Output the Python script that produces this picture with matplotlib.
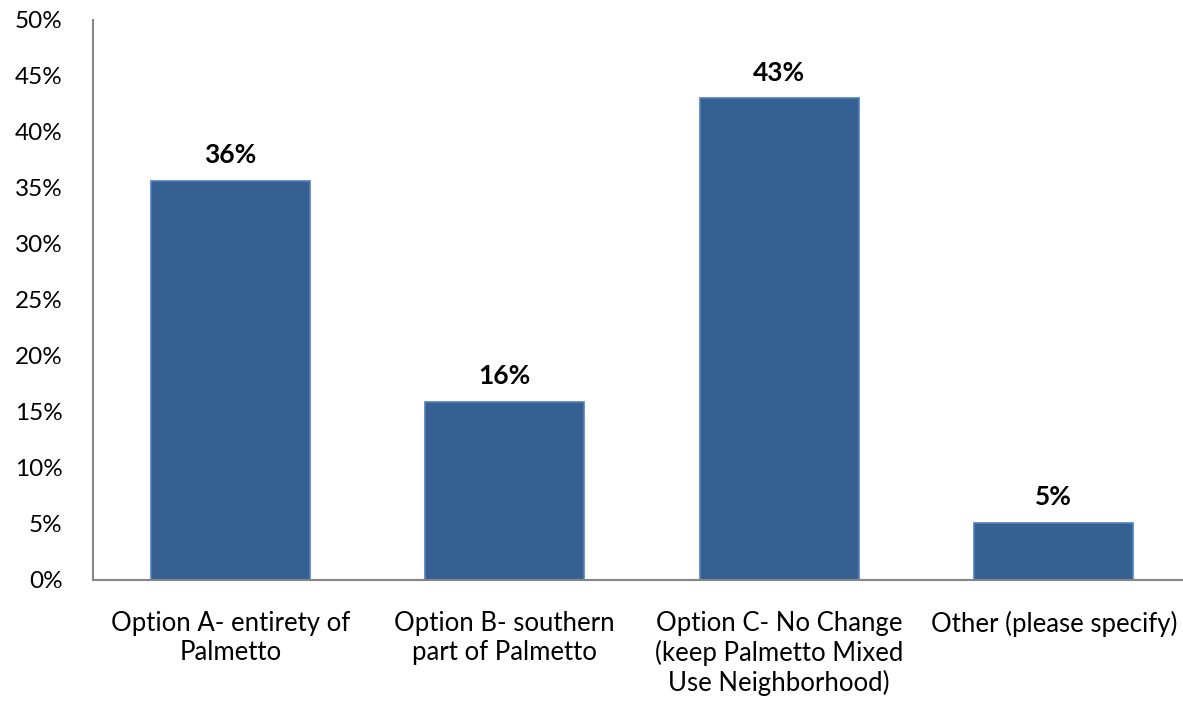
import matplotlib
matplotlib.use("Agg")
import matplotlib.pyplot as plt
from matplotlib.ticker import PercentFormatter

categories = ["Option A- entirety of\nPalmetto",
              "Option B- southern\npart of Palmetto",
              "Option C- No Change\n(keep Palmetto Mixed\nUse Neighborhood)",
              "Other (please specify)"]
values = [35.6, 15.9, 43.0, 5.1]
labels = ["36%", "16%", "43%", "5%"]

plt.rcParams["font.family"] = ["Lato", "DejaVu Sans"]

fig = plt.figure(figsize=(11.83, 7.05), dpi=100)
ax = fig.add_axes([93 / 1183, 125 / 705, 1098 / 1183, 560 / 705])

x = range(len(categories))
bars = ax.bar(x, values, width=0.58, color="#376092", edgecolor="#4F81BD", lw=1.2)
for b, lab in zip(bars, labels):
    ax.annotate(lab, (b.get_x() + b.get_width() / 2, b.get_height()),
                xytext=(0, 10), textcoords="offset points",
                ha="center", va="bottom", fontsize=19, fontweight="bold")

ax.set_xlim(-0.5, 3.5)
ax.set_ylim(0, 50)
ax.set_yticks(range(0, 51, 5))
ax.yaxis.set_major_formatter(PercentFormatter(decimals=0))
ax.set_xticks(list(x))
ax.set_xticklabels(categories, fontsize=18.5, linespacing=1.2)
ax.tick_params(axis="y", length=0, labelsize=17.5, pad=22)
ax.tick_params(axis="x", length=0, pad=22)
for s in ("top", "right"):
    ax.spines[s].set_visible(False)
for s in ("left", "bottom"):
    ax.spines[s].set_color("#868686")
    ax.spines[s].set_linewidth(1.5)

fig.savefig("out.png", dpi=100)
